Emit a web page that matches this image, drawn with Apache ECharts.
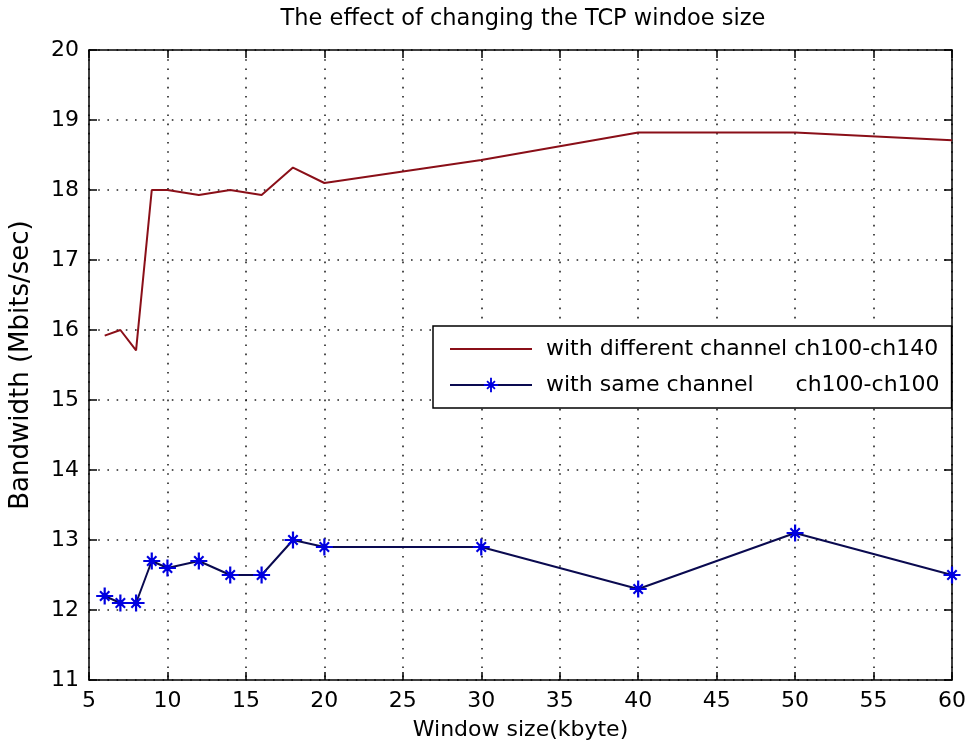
<!DOCTYPE html>
<html>
<head>
<meta charset="utf-8">
<style>
  html, body { margin: 0; padding: 0; background: #fff; }
  #chart { width: 969px; height: 746px; }
</style>
<script src="https://cdn.jsdelivr.net/npm/echarts@6/dist/echarts.min.js"></script>
</head>
<body>
<div id="chart"></div>
<script>
// Window sizes (kbyte) at which bandwidth was measured
const windowSizes = [6, 7, 8, 9, 10, 12, 14, 16, 18, 20, 30, 40, 50, 60];
// Bandwidth (Mbits/sec), different channels ch100-ch140
const diffChannel = [15.92, 16.0, 15.71, 18.0, 18.0, 17.93, 18.0, 17.93, 18.32, 18.1, 18.43, 18.82, 18.82, 18.71];
// Bandwidth (Mbits/sec), same channel ch100-ch100
const sameChannel = [12.2, 12.1, 12.1, 12.7, 12.6, 12.7, 12.5, 12.5, 13.0, 12.9, 12.9, 12.3, 13.1, 12.5];

const seriesNames = [
  'with different channel ch100-ch140',
  'with same channel      ch100-ch100'
];

const FONT = 'DejaVu Sans';
const pair = (xs, ys) => xs.map((x, i) => [x, ys[i]]);

// asterisk marker: plus + cross
const starPath = 'path://M8.7,0L11.3,0L11.3,20L8.7,20Z' +
  'M0,8.7L20,8.7L20,11.3L0,11.3Z' +
  'M3.6,5.4L5.4,3.6L16.4,14.6L14.6,16.4Z' +
  'M14.6,3.6L16.4,5.4L5.4,16.4L3.6,14.6Z' +
  'M6.5,6.5L13.5,6.5L13.5,13.5L6.5,13.5Z';

const gridDots = { color: '#222', width: 1.6, type: [1.6, 7.6] };
const boxLine = { show: true, onZero: false, lineStyle: { color: '#000', width: 1.5 } };
const inTick = { show: true, inside: true, length: 8, lineStyle: { color: '#000', width: 1.5 } };

const chart = echarts.init(document.getElementById('chart'), null, { renderer: 'canvas' });
chart.setOption({
  backgroundColor: '#fff',
  animation: false,
  title: {
    text: 'The effect of changing the TCP windoe size',
    left: 518, textAlign: 'center', top: 3,
    textStyle: { fontFamily: FONT, fontSize: 22.5, fontWeight: 'normal', color: '#000' }
  },
  grid: { left: 88, right: 14, top: 50, bottom: 66, containLabel: false },
  legend: {
    orient: 'vertical',
    left: 433, top: 326,
    padding: [12, 12, 12, 16],
    itemGap: 14,
    itemWidth: 82, itemHeight: 18,
    borderColor: '#000', borderWidth: 1.5,
    backgroundColor: '#fff',
    textStyle: { fontFamily: FONT, fontSize: 22, color: '#000', padding: [0, 0, 0, 9] },
    data: [
      { name: seriesNames[0], itemStyle: { opacity: 0 } },
      { name: seriesNames[1] }
    ]
  },
  xAxis: [{
    type: 'value', min: 5, max: 60, interval: 5,
    name: 'Window size(kbyte)', nameLocation: 'middle', nameGap: 39,
    nameTextStyle: { fontFamily: FONT, fontSize: 22, color: '#000' },
    axisLine: boxLine, axisTick: inTick,
    axisLabel: { fontFamily: FONT, fontSize: 22, color: '#000', margin: 10 },
    splitLine: { show: true, lineStyle: gridDots }
  }, {
    type: 'value', position: 'top', min: 5, max: 60, interval: 5,
    axisLine: boxLine, axisTick: inTick,
    axisLabel: { show: false }, splitLine: { show: false }
  }],
  yAxis: [{
    type: 'value', min: 11, max: 20, interval: 1,
    name: 'Bandwidth (Mbits/sec)', nameLocation: 'middle', nameGap: 55,
    nameTextStyle: { fontFamily: FONT, fontSize: 26, color: '#000' },
    axisLine: boxLine, axisTick: inTick,
    axisLabel: { fontFamily: FONT, fontSize: 22, color: '#000', margin: 10 },
    splitLine: { show: true, lineStyle: gridDots }
  }, {
    type: 'value', position: 'right', min: 11, max: 20, interval: 1,
    axisLine: boxLine, axisTick: inTick,
    axisLabel: { show: false }, splitLine: { show: false }
  }],
  series: [{
    name: seriesNames[0],
    type: 'line',
    data: pair(windowSizes, diffChannel),
    symbol: 'none',
    lineStyle: { color: '#8a0f18', width: 2 },
    itemStyle: { color: '#8a0f18' }
  }, {
    name: seriesNames[1],
    type: 'line',
    data: pair(windowSizes, sameChannel),
    symbol: starPath, symbolSize: 17,
    lineStyle: { color: '#0a0a50', width: 2 },
    itemStyle: { color: '#0000e0' }
  }]
});
</script>
</body>
</html>
